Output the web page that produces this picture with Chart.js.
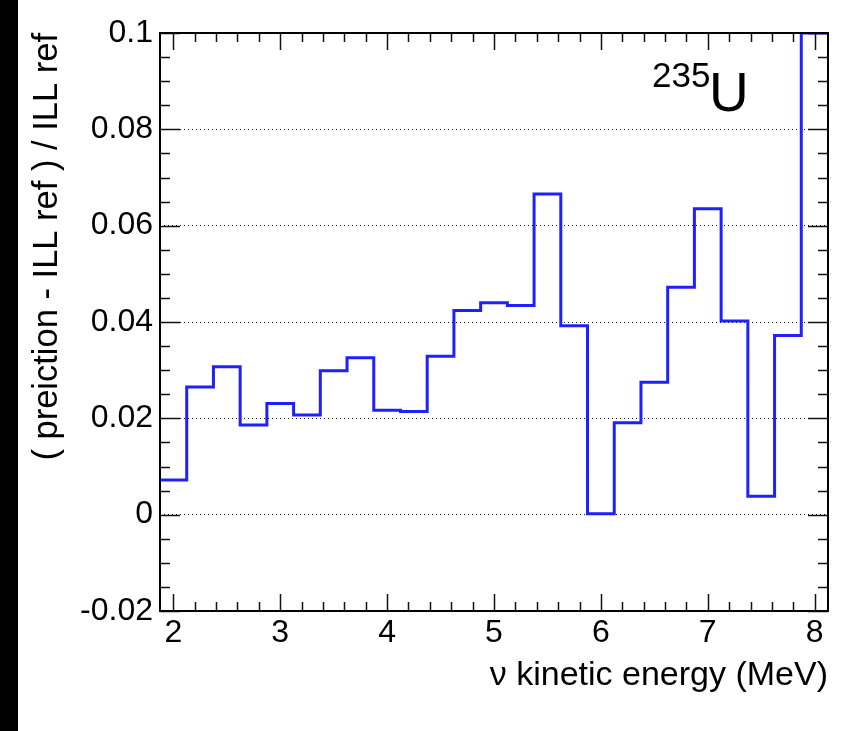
<!DOCTYPE html>
<html>
<head>
<meta charset="utf-8">
<script src="https://cdn.jsdelivr.net/npm/chart.js@4/dist/chart.umd.min.js"></script>
<style>
  html, body { margin: 0; padding: 0; background: #fff; }
  #wrap { position: relative; width: 863px; height: 731px; }
  #strip { position: absolute; left: 0; top: 0; width: 18px; height: 731px; background: #000; }
  canvas { position: absolute; left: 0; top: 0; }
</style>
</head>
<body>
<div id="wrap">
  <canvas id="ratio-chart" width="863" height="731"></canvas>
  <div id="strip"></div>
</div>
<script>
/// ------------- DATA --------------- ///

const binCenters = [2.0, 2.25, 2.5, 2.75, 3.0, 3.25, 3.5, 3.75, 4.0, 4.25,
                    4.5, 4.75, 5.0, 5.25, 5.5, 5.75, 6.0, 6.25, 6.5, 6.75,
                    7.0, 7.25, 7.5, 7.75, 8.0];
const binWidth = 0.25;
const ratioValues = [0.0072, 0.0265, 0.0307, 0.0186, 0.0231, 0.0207, 0.0299, 0.0326, 0.0217, 0.0214,
                     0.0329, 0.0424, 0.0440, 0.0434, 0.0666, 0.0392, 0.0002, 0.0191, 0.0275, 0.0472,
                     0.0635, 0.0402, 0.0038, 0.0372, 0.1000];

const xTickValues = [2, 3, 4, 5, 6, 7, 8];
const xTickLabels = ["2", "3", "4", "5", "6", "7", "8"];
const yTickValues = [-0.02, 0, 0.02, 0.04, 0.06, 0.08, 0.1];
const yTickLabels = ["-0.02", "0", "0.02", "0.04", "0.06", "0.08", "0.1"];

const xMin = 1.875, xMax = 8.125;
const yMin = -0.02, yMax = 0.1;

/// ------------- HISTOGRAM POINTS --------------- ///

// one point per left bin edge, plus the right edge of the last bin
const histPoints = binCenters.map((c, i) => ({ x: c - binWidth / 2, y: ratioValues[i] }));
histPoints.push({ x: binCenters[binCenters.length - 1] + binWidth / 2, y: ratioValues[ratioValues.length - 1] });

const FONT = "'Liberation Sans', Arial, Helvetica, sans-serif";

/// ------------- FRAME + INNER TICKS (ROOT style) --------------- ///

const frameTicks = {
    id: "frameTicks",
    afterDraw(chart) {
        const { ctx, chartArea: a, scales: { x, y } } = chart;
        ctx.save();
        ctx.strokeStyle = "#111";
        ctx.lineWidth = 1.5;
        ctx.beginPath();
        // x: major every 1, minor every 0.2
        for (let k = Math.ceil(xMin * 5); k <= Math.floor(xMax * 5); k++) {
            const v = k / 5;
            const major = k % 5 === 0;
            const px = Math.round(x.getPixelForValue(v)) + 0.5;
            const len = major ? 17 : 9;
            ctx.moveTo(px, a.bottom); ctx.lineTo(px, a.bottom - len);
            ctx.moveTo(px, a.top); ctx.lineTo(px, a.top + len);
        }
        // y: major every 0.02, minor every 0.005
        for (let k = Math.ceil(yMin * 200 - 1e-6); k <= Math.floor(yMax * 200 + 1e-6); k++) {
            const v = k / 200;
            const major = k % 4 === 0;
            const py = Math.round(y.getPixelForValue(v)) + 0.5;
            const len = major ? 20 : 10;
            ctx.moveTo(a.left, py); ctx.lineTo(a.left + len, py);
            ctx.moveTo(a.right, py); ctx.lineTo(a.right - len, py);
        }
        ctx.stroke();

        ctx.lineWidth = 2;
        ctx.strokeStyle = "#000";
        ctx.strokeRect(a.left, a.top, a.right - a.left, a.bottom - a.top);

        // isotope label
        ctx.fillStyle = "#000";
        ctx.textBaseline = "alphabetic";
        ctx.textAlign = "left";
        ctx.font = "35px " + FONT;
        ctx.fillText("235", 652, 87);
        ctx.font = "55px " + FONT;
        ctx.fillText("U", 709, 111);
        ctx.restore();
    }
};

/// ------------- CHART --------------- ///

new Chart(document.getElementById("ratio-chart"), {
    type: "line",
    data: {
        datasets: [{
            data: histPoints,
            stepped: "before",
            borderColor: "#2020ff",
            borderWidth: 3,
            pointRadius: 0,
            fill: false
        }]
    },
    options: {
        responsive: false,
        animation: false,
        layout: { padding: { left: 0, right: 35, top: 33, bottom: 0 } },
        plugins: {
            legend: { display: false },
            tooltip: { enabled: false }
        },
        scales: {
            x: {
                type: "linear",
                min: xMin,
                max: xMax,
                afterBuildTicks: s => { s.ticks = xTickValues.map(v => ({ value: v })); },
                afterFit: s => { s.height = 120; },
                grid: { display: false, drawTicks: false },
                border: { display: false },
                ticks: {
                    color: "#000",
                    font: { family: FONT, size: 32 },
                    padding: 3,
                    maxRotation: 0,
                    callback: v => xTickLabels[xTickValues.indexOf(v)]
                },
                title: {
                    display: true,
                    text: "\u03bd kinetic energy (MeV)",
                    align: "end",
                    color: "#000",
                    font: { family: FONT, size: 34 },
                    padding: { top: 8, bottom: 35 }
                }
            },
            y: {
                type: "linear",
                min: yMin,
                max: yMax,
                afterBuildTicks: s => { s.ticks = yTickValues.map(v => ({ value: v })); },
                afterFit: s => { s.width = 160; },
                grid: {
                    drawTicks: false,
                    lineWidth: 1,
                    color: c => (c.tick && (c.tick.value === yMin || c.tick.value === yMax)) ? "rgba(0,0,0,0)" : "#111"
                },
                border: { display: false, dash: [1, 3] },
                ticks: {
                    color: "#000",
                    font: { family: FONT, size: 32 },
                    padding: 7,
                    callback: v => yTickLabels[yTickValues.indexOf(v)]
                },
                title: {
                    display: true,
                    text: "( preiction - ILL ref ) / ILL ref",
                    align: "end",
                    color: "#000",
                    font: { family: FONT, size: 34.5 },
                    padding: { top: 27, bottom: 0 }
                }
            }
        }
    },
    plugins: [frameTicks]
});
</script>
</body>
</html>
